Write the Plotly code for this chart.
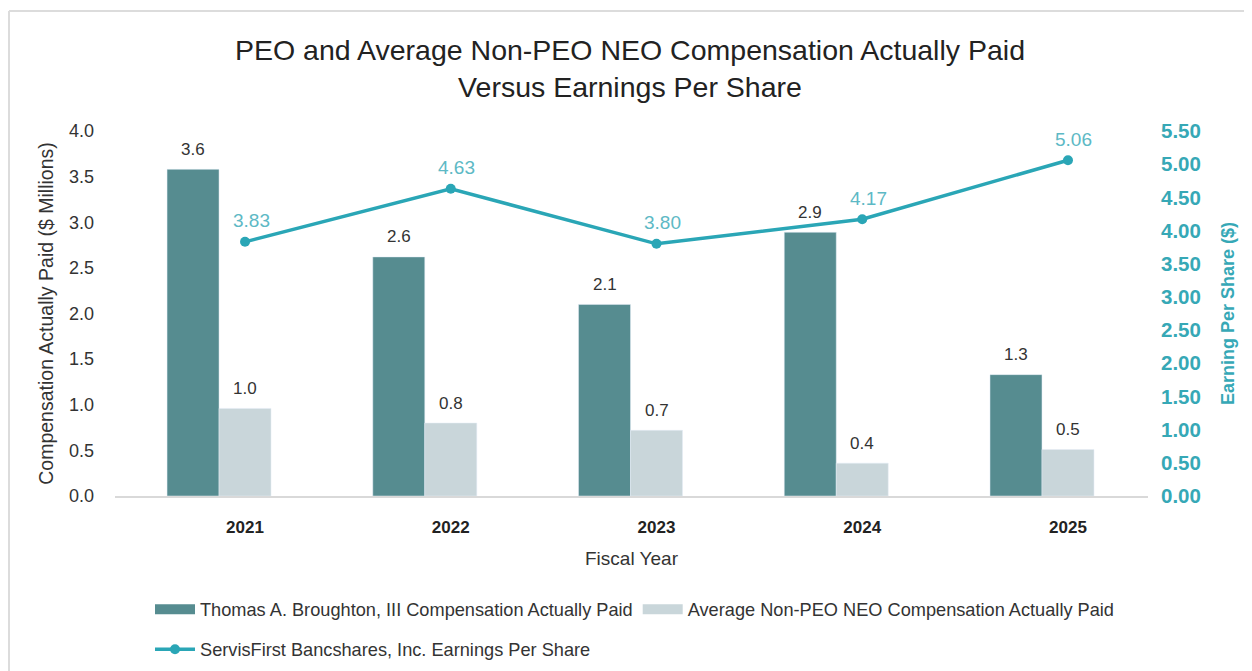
import plotly.graph_objects as go

# ---------------- data ----------------
years = ["2021", "2022", "2023", "2024", "2025"]
peo_cap = [3.58, 2.62, 2.10, 2.89, 1.33]          # $ Millions
neo_cap = [0.96, 0.80, 0.72, 0.36, 0.51]          # $ Millions
eps = [3.83, 4.63, 3.80, 4.17, 5.06]              # $

peo_name = "Thomas A. Broughton, III Compensation Actually Paid"
neo_name = "Average Non-PEO NEO Compensation Actually Paid"
eps_name = "ServisFirst Bancshares, Inc. Earnings Per Share"

# ---------------- style ----------------
OFF = 8                      # page body margin
W, H = 1252 - OFF, 671 - OFF
L = 115 - OFF
R = W - (1148 - OFF)
T = 131 - OFF
B = H - (496 - OFF)
PW, PH = W - L - R, H - T - B
XR = [-0.632, 4.389]
cat_px = PW / (XR[1] - XR[0])

DARK = "#568c90"
LIGHT = "#c9d6da"
LINE = "#2aa6b6"
LINE_TXT = "#5db9c5"
AX_TEAL = "#36a8b6"
FONT = "Liberation Sans"

bar_w = 0.2527
dark_off = -0.379
light_off = -0.1263


def px_x(p):  # reference-image pixel -> paper coordinate
    return (p - OFF - L) / PW


def px_y(p):
    return (H - B - (p - OFF)) / PH


def cy(p):  # reference-image pixel -> container coordinate
    return 1 - (p - OFF) / H


fig = go.Figure()

fig.add_trace(go.Bar(
    x=years, y=peo_cap, name=peo_name, marker_color=DARK,
    width=bar_w, offset=dark_off, showlegend=False, legendgroup="peo",
))
fig.add_trace(go.Bar(
    x=years, y=neo_cap, name=neo_name, marker_color=LIGHT,
    width=bar_w, offset=light_off, showlegend=False, legendgroup="neo",
))
fig.add_trace(go.Scatter(
    x=years, y=eps, name=eps_name, yaxis="y2", mode="lines+markers",
    line=dict(color=LINE, width=3.5), marker=dict(color=LINE, size=10),
    cliponaxis=False, showlegend=False, legendgroup="eps",
))

# legend entries (wide swatches like the reference)
fig.add_trace(go.Scatter(x=[None], y=[None], mode="lines", name=peo_name,
                         line=dict(color=DARK, width=12), legendgroup="peo", legend="legend"))
fig.add_trace(go.Scatter(x=[None], y=[None], mode="lines", name=neo_name,
                         line=dict(color=LIGHT, width=12), legendgroup="neo", legend="legend"))
fig.add_trace(go.Scatter(x=[None], y=[None], mode="lines+markers", name=eps_name,
                         line=dict(color=LINE, width=3.5), marker=dict(color=LINE, size=10),
                         legendgroup="eps", legend="legend2"))

annotations = []
dark_shift = (dark_off + bar_w / 2) * cat_px
light_shift = (light_off + bar_w / 2) * cat_px
for i, v in enumerate(peo_cap):
    annotations.append(dict(x=i, y=v, xref="x", yref="y", text=f"{v:.1f}",
                            showarrow=False, xshift=dark_shift, yshift=20, yanchor="middle",
                            font=dict(family=FONT, size=17, color="#333333")))
for i, v in enumerate(neo_cap):
    annotations.append(dict(x=i, y=v, xref="x", yref="y", text=f"{v:.1f}",
                            showarrow=False, xshift=light_shift, yshift=20, yanchor="middle",
                            font=dict(family=FONT, size=17, color="#333333")))
for i, v in enumerate(eps):
    annotations.append(dict(x=i, y=v, xref="x", yref="y2", text=f"{v:.2f}",
                            showarrow=False, xshift=6, yshift=21, yanchor="middle",
                            font=dict(family=FONT, size=19, color=LINE_TXT)))

frame = "#dcdcdc"
shapes = [
    dict(type="line", xref="paper", yref="paper", x0=px_x(9), x1=px_x(1260),
         y0=px_y(11), y1=px_y(11), line=dict(color=frame, width=2)),
    dict(type="line", xref="paper", yref="paper", x0=px_x(9), x1=px_x(9),
         y0=px_y(11), y1=px_y(680), line=dict(color=frame, width=2)),
]

legend_font = dict(family=FONT, size=18.2, color="#333333")

fig.update_layout(
    width=W, height=H,
    margin=dict(l=L, r=R, t=T, b=B),
    paper_bgcolor="white", plot_bgcolor="white",
    font=dict(family=FONT, color="#333333"),
    barmode="overlay",
    title=dict(text="PEO and Average Non-PEO NEO Compensation Actually Paid<br>Versus Earnings Per Share",
               x=0.5, xanchor="center", y=cy(59.5), yanchor="middle",
               font=dict(family=FONT, size=28.5, color="#222222")),
    xaxis=dict(type="category", range=XR, showgrid=False, showline=True,
               linecolor="#d9d9d9", linewidth=2, ticks="", ticklabelstandoff=15,
               tickfont=dict(family=FONT, size=17, color="#222222", weight="bold"),
               title=dict(text="Fiscal Year", font=dict(family=FONT, size=19, color="#333333"),
                          standoff=15),
               zeroline=False, automargin=False),
    yaxis=dict(range=[0, 4], dtick=0.5, tick0=0, tickformat=".1f", showgrid=False,
               zeroline=False, ticks="", ticklabelstandoff=20, automargin=False,
               tickfont=dict(family=FONT, size=18, color="#333333"),
               title=dict(text="Compensation Actually Paid ($ Millions)",
                          font=dict(family=FONT, size=19.5, color="#333333"), standoff=10)),
    yaxis2=dict(range=[0, 5.5], dtick=0.5, tick0=0, tickformat=".2f", overlaying="y",
                side="right", showgrid=False, zeroline=False, ticks="", ticklabelstandoff=12,
                automargin=False,
                tickfont=dict(family=FONT, size=20.5, color=AX_TEAL, weight="bold"),
                title=dict(text="Earning Per Share ($)",
                           font=dict(family=FONT, size=18, color=AX_TEAL, weight="bold"),
                           standoff=21)),
    legend=dict(orientation="h", x=px_x(150), xanchor="left", yref="container",
                y=cy(591), yanchor="top",
                font=legend_font, itemwidth=40, bgcolor="rgba(0,0,0,0)"),
    legend2=dict(orientation="h", x=px_x(150), xanchor="left", yref="container",
                 y=cy(631), yanchor="top",
                 font=legend_font, itemwidth=40, bgcolor="rgba(0,0,0,0)"),
    annotations=annotations,
    shapes=shapes,
)

fig.write_html("out.html")
